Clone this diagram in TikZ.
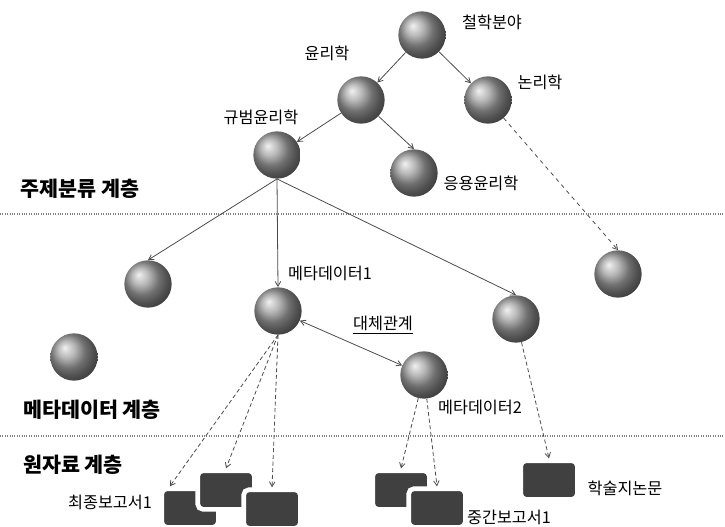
\documentclass[tikz,border=0pt]{standalone}
\usepackage{fontspec}
\setmainfont{Noto Sans CJK KR}
\usetikzlibrary{arrows,shadings}

\begin{document}
\begin{tikzpicture}[x=.75pt,y=-.75pt,
    orb/.style={circle,shading=ball,ball color=gray!75,minimum size=35.5pt,inner sep=0pt},
    doc/.style={rectangle,rounded corners=4pt,fill=black!75,draw=white,line width=3.5pt,%
        minimum width=42.5pt,minimum height=29pt,inner sep=0pt},
    lbl/.style={font=\fontsize{12.2}{14}\selectfont,inner sep=0pt},
    layername/.style={font=\fontsize{15.5}{18}\selectfont\bfseries,inner sep=0pt},
    link/.style={draw=black!70,line width=.6pt,-angle 60},
    divider/.style={draw=gray,densely dotted,line width=.8pt}]

\useasboundingbox (0,0) rectangle (725,526);

%layers
\draw[divider] (0,214) -- (725,214);
\draw[divider] (0,436) -- (725,436);
\node[layername] (topiclayer) at (80,189) {주제분류 계층};
\node[layername] (metalayer) at (92,410) {메타데이터 계층};
\node[layername] (rawlayer) at (73,465) {원자료 계층};

%topic tree
\node[orb] (phil) at (422,35) {};
\node[orb] (ethics) at (361,100) {};
\node[orb] (logic) at (488,100) {};
\node[orb] (normative) at (277,155) {};
\node[orb] (applied) at (414,173) {};
\node[lbl] (philtxt) at (492,22) {철학분야};
\node[lbl] (ethicstxt) at (327,53) {윤리학};
\node[lbl] (logictxt) at (540,82) {논리학};
\node[lbl] (normtxt) at (261,117) {규범윤리학};
\node[lbl] (appliedtxt) at (481,183) {응용윤리학};

%metadata
\node[orb] (metaL) at (148,284) {};
\node[orb] (meta1) at (278,311) {};
\node[orb] (metaR) at (516,319) {};
\node[orb] (metaLogic) at (618,274) {};
\node[orb] (metaLone) at (74,357) {};
\node[orb] (meta2) at (424,375) {};
\node[lbl] (meta1txt) at (330,273) {메타데이터1};
\node[lbl] (meta2txt) at (480,407) {메타데이터2};
\node[lbl] (alttxt) at (383,325) {\underline{대체관계}};

%raw data
\node[doc] (docA) at (190,508) {};
\node[doc] (docB) at (226,490) {};
\node[doc] (docC) at (272,509) {};
\node[doc] (docD) at (401,490) {};
\node[doc] (docE) at (437,508) {};
\node[doc] (docF) at (549,480) {};
\node[lbl] (finaltxt) at (110,502) {최종보고서1};
\node[lbl] (interimtxt) at (509,517) {중간보고서1};
\node[lbl] (journaltxt) at (625,488) {학술지논문};

%links
\draw[link] (phil) -- (ethics);
\draw[link] (phil) -- (logic);
\draw[link] (ethics) -- (normative);
\draw[link] (ethics) -- (applied.north);
\draw[link] (normative.south) -- (metaL.north);
\draw[link] (normative.south) -- (meta1.north);
\draw[link] (normative.south) -- (metaR.north);
\draw[link,dashed] (logic) -- (metaLogic.north);
\draw[link,angle 60-angle 60] (meta1) -- (meta2);
\draw[link,densely dashed] (meta1.south) -- (docA.133);
\draw[link,densely dashed] (meta1.south) -- (docB.north);
\draw[link,densely dashed] (meta1.south) -- (docC.north);
\draw[link,densely dashed] (meta2) -- (docD.north);
\draw[link,densely dashed] (meta2) -- (docE.north);
\draw[link,densely dashed] (metaR) -- (docF.north);

\end{tikzpicture}
\end{document}
